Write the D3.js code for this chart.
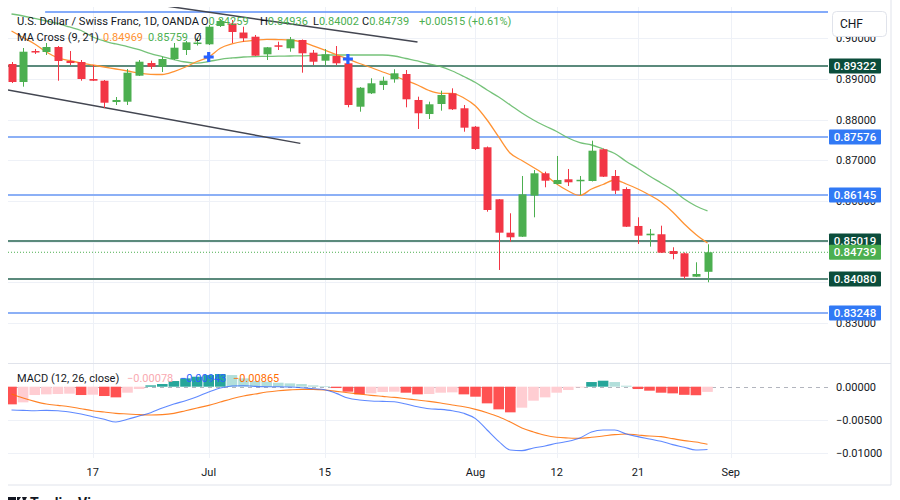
<!DOCTYPE html>
<html><head><meta charset="utf-8">
<script src="https://cdn.jsdelivr.net/npm/d3@7"></script>
<style>body{margin:0;background:#fff;}svg{display:block;font-family:Roboto,"Noto Sans",sans-serif;}</style>
</head><body><svg id="c" width="900" height="500"></svg>
<script>
const dates = ["2024-06-06","2024-06-07","2024-06-10","2024-06-11","2024-06-12","2024-06-13","2024-06-14","2024-06-17","2024-06-18","2024-06-19","2024-06-20","2024-06-21","2024-06-24","2024-06-25","2024-06-26","2024-06-27","2024-06-28","2024-07-01","2024-07-02","2024-07-03","2024-07-04","2024-07-05","2024-07-08","2024-07-09","2024-07-10","2024-07-11","2024-07-12","2024-07-15","2024-07-16","2024-07-17","2024-07-18","2024-07-19","2024-07-22","2024-07-23","2024-07-24","2024-07-25","2024-07-26","2024-07-29","2024-07-30","2024-07-31","2024-08-01","2024-08-02","2024-08-05","2024-08-06","2024-08-07","2024-08-08","2024-08-09","2024-08-12","2024-08-13","2024-08-14","2024-08-15","2024-08-16","2024-08-19","2024-08-20","2024-08-21","2024-08-22","2024-08-23","2024-08-26","2024-08-27","2024-08-28","2024-08-29"];
const open  = [0.89369,0.88926,0.89688,0.89664,0.89787,0.89443,0.89418,0.89000,0.88958,0.88434,0.88442,0.89081,0.89393,0.89302,0.89492,0.89713,0.89873,0.89853,0.90303,0.90365,0.90143,0.90040,0.89607,0.89829,0.89755,0.89959,0.89647,0.89450,0.89566,0.89386,0.88319,0.88648,0.88852,0.88993,0.89123,0.88484,0.88139,0.88385,0.88648,0.88280,0.87827,0.87321,0.86042,0.85221,0.85122,0.86131,0.86681,0.86418,0.86534,0.86504,0.86492,0.87271,0.86615,0.86295,0.85386,0.85157,0.85182,0.84771,0.84714,0.84139,0.84259];
const high  = [0.89418,0.89762,0.89738,0.89885,0.89811,0.89688,0.89467,0.89344,0.88975,0.88557,0.89246,0.89467,0.89450,0.89548,0.89885,0.89934,0.90008,0.90328,0.90475,0.90451,0.90286,0.90082,0.89787,0.89917,0.90033,0.89971,0.89713,0.89738,0.89811,0.89406,0.88803,0.89017,0.89057,0.89239,0.89221,0.88565,0.88442,0.88712,0.88771,0.88361,0.87844,0.87340,0.86049,0.85698,0.86615,0.86762,0.86721,0.87107,0.86787,0.86615,0.87483,0.87290,0.86762,0.86337,0.85599,0.85312,0.85393,0.84862,0.84734,0.84493,0.84936];
const low   = [0.88902,0.88811,0.89615,0.89590,0.88958,0.89344,0.88958,0.88951,0.88287,0.88361,0.88361,0.89074,0.89246,0.89172,0.89467,0.89590,0.89824,0.89836,0.90279,0.89885,0.89917,0.89566,0.89467,0.89713,0.89671,0.89155,0.89344,0.89344,0.89344,0.88304,0.88196,0.88631,0.88730,0.88909,0.88304,0.87771,0.88016,0.88221,0.88238,0.87704,0.87254,0.85737,0.84304,0.85000,0.85115,0.85599,0.86337,0.86406,0.86369,0.86148,0.86480,0.86590,0.86172,0.85361,0.84943,0.84877,0.84722,0.84567,0.84082,0.84132,0.84002];
const close = [0.88926,0.89671,0.89664,0.89787,0.89443,0.89393,0.89000,0.88958,0.88417,0.88484,0.89155,0.89425,0.89302,0.89492,0.89770,0.89902,0.89897,0.90286,0.90426,0.90156,0.90001,0.89573,0.89779,0.89811,0.89976,0.89632,0.89425,0.89607,0.89386,0.88361,0.88786,0.88894,0.88958,0.89140,0.88501,0.88157,0.88378,0.88607,0.88255,0.87803,0.87279,0.85779,0.85221,0.85108,0.86165,0.86681,0.86499,0.86517,0.86460,0.86522,0.87237,0.86598,0.86254,0.85368,0.85147,0.85196,0.84729,0.84697,0.84139,0.84205,0.84739];
const ma9  = [0.90180,0.90020,0.89861,0.89664,0.89521,0.89455,0.89393,0.89344,0.89295,0.89246,0.89197,0.89143,0.89116,0.89111,0.89184,0.89295,0.89430,0.89541,0.89757,0.89861,0.89925,0.89952,0.89976,0.89969,0.89959,0.89915,0.89816,0.89708,0.89602,0.89492,0.89381,0.89283,0.89172,0.89074,0.88963,0.88852,0.88717,0.88648,0.88648,0.88533,0.88336,0.87992,0.87574,0.87173,0.86996,0.86824,0.86640,0.86418,0.86246,0.86136,0.86295,0.86406,0.86517,0.86418,0.86295,0.86148,0.85976,0.85730,0.85435,0.85177,0.84969];
const ma21 = [0.90598,0.90549,0.90488,0.90426,0.90365,0.90279,0.90193,0.90033,0.89934,0.89861,0.89799,0.89720,0.89627,0.89553,0.89479,0.89418,0.89388,0.89430,0.89484,0.89516,0.89541,0.89551,0.89556,0.89561,0.89566,0.89570,0.89580,0.89590,0.89590,0.89590,0.89590,0.89590,0.89590,0.89566,0.89504,0.89443,0.89369,0.89305,0.89197,0.89061,0.88914,0.88730,0.88557,0.88361,0.88164,0.87992,0.87844,0.87709,0.87549,0.87434,0.87377,0.87279,0.87168,0.86972,0.86799,0.86615,0.86443,0.86271,0.86049,0.85877,0.85759];
const macdLine = [-0.0035,-0.00355,-0.0036,-0.00355,-0.0036,-0.0038,-0.0041,-0.0045,-0.0049,-0.0053,-0.0049,-0.0044,-0.0039,-0.0032,-0.0026,-0.0021,-0.0015,-0.0008,-0.0002,0.0001,0.00015,0.00005,0,0,-0.00005,-0.00015,-0.0003,-0.00045,-0.001,-0.0017,-0.002,-0.00215,-0.0022,-0.00225,-0.0026,-0.003,-0.0033,-0.0034,-0.0036,-0.004,-0.0048,-0.0065,-0.0082,-0.0095,-0.0096,-0.0092,-0.0089,-0.0085,-0.0082,-0.0077,-0.0068,-0.0065,-0.0065,-0.0071,-0.0075,-0.00785,-0.0082,-0.0087,-0.0091,-0.0095,-0.00943];
const signalLine = [-0.0011,-0.0017,-0.0022,-0.0026,-0.0028,-0.003,-0.0033,-0.0036,-0.0038,-0.004,-0.0041,-0.0042,-0.00425,-0.0042,-0.004,-0.0036,-0.0032,-0.0028,-0.0023,-0.0018,-0.0014,-0.0011,-0.0008,-0.0006,-0.00048,-0.0004,-0.0004,-0.0005,-0.0007,-0.0009,-0.0011,-0.0013,-0.00145,-0.0016,-0.0018,-0.002,-0.0022,-0.00245,-0.00275,-0.003,-0.0034,-0.0039,-0.0045,-0.0053,-0.0062,-0.0068,-0.0073,-0.0076,-0.0077,-0.00775,-0.0076,-0.0074,-0.0072,-0.0071,-0.00725,-0.0074,-0.0075,-0.0078,-0.0081,-0.0083,-0.00865];
const histogram = [-0.00265,-0.00235,-0.00125,-0.00115,-0.0011,-0.00105,-0.00125,-0.0012,-0.0014,-0.0016,-0.0009,-0.00035,0.0002,0.0004,0.00085,0.00125,0.0015,0.00175,0.0019,0.00175,0.00125,0.00085,0.00075,0.0006,0.0005,0.0004,0.0002,0.0001,-0.0002,-0.00075,-0.00115,-0.001,-0.0008,-0.00075,-0.0009,-0.00115,-0.0011,-0.0009,-0.00085,-0.00115,-0.0015,-0.0025,-0.0034,-0.00385,-0.00315,-0.0021,-0.0016,-0.0009,-0.0005,-0.0001,0.0007,0.0009,0.0007,0.00015,-0.00035,-0.0006,-0.0009,-0.001,-0.00122,-0.00128,-0.00078];
const greenLevels = [0.89322, 0.85019, 0.84080];
const blueLevels = [0.87576, 0.86145, 0.83248];
const topRay = {startIndex: 2.9, price: 0.9065};
const trendLines = [
  {i1: 12.0, p1: 0.90849, i2: 35.0, p2: 0.89907},
  {i1: -0.3, p1: 0.88730, i2: 24.9, p2: 0.87417}
];
const priceTicks = [0.90, 0.89, 0.88, 0.87, 0.86, 0.85, 0.84, 0.83];
const macdTicks = [0, -0.005, -0.01];
const timeTicks = [["2024-06-17","17"],["2024-07-01","Jul"],["2024-07-15","15"],["2024-08-01","Aug"],["2024-08-12","12"],["2024-08-21","21"],["2024-09-02","Sep"]];
const crossIdx = [17, 29];
const legendTitle = "U.S. Dollar / Swiss Franc, 1D, OANDA";
const change = "+0.00515 (+0.61%)";

const svg = d3.select("#c");
const L = 8, R = 828;
const n = dates.length;
const x = d3.scaleLinear().domain([0, n - 1]).range([11.5, 707.5]);
const y = d3.scaleLinear().domain([0.83, 0.89]).range([323, 79]);
const ym = d3.scaleLinear().domain([-0.01, 0]).range([453.3, 386.7]);
function tradingIndex(ds) {
  const d0 = new Date(dates[0] + "T00:00:00Z"), d1 = new Date(ds + "T00:00:00Z");
  let c = 0; for (let d = new Date(d0); d < d1; d.setUTCDate(d.getUTCDate() + 1)) { const w = d.getUTCDay(); if (w !== 0 && w !== 6) c++; }
  return c;
}
const GREEN = "#4caf50", RED = "#f23645";

const defs = svg.append("defs");
defs.append("clipPath").attr("id", "mainClip").append("rect").attr("x", L).attr("y", 7).attr("width", R - L).attr("height", 356);
defs.append("clipPath").attr("id", "macdClip").append("rect").attr("x", L).attr("y", 364).attr("width", R - L).attr("height", 94);

// frame
svg.append("line").attr("x1", L).attr("x2", 891).attr("y1", 485).attr("y2", 485).attr("stroke", "#e0e3eb");
svg.append("line").attr("x1", 891).attr("x2", 891).attr("y1", 0).attr("y2", 485).attr("stroke", "#e0e3eb");
svg.append("line").attr("x1", L).attr("x2", 891).attr("y1", 363.5).attr("y2", 363.5).attr("stroke", "#e0e3eb");

// vertical grid
const vg = svg.append("g");
timeTicks.forEach(([d]) => {
  const xi = Math.round(x(tradingIndex(d))) + 0.5;
  vg.append("line").attr("x1", xi).attr("x2", xi).attr("y1", 7).attr("y2", 363).attr("stroke", "#eef1f7");
  vg.append("line").attr("x1", xi).attr("x2", xi).attr("y1", 364).attr("y2", 458).attr("stroke", "#eef1f7");
});
// horizontal price grid
const main = svg.append("g").attr("clip-path", "url(#mainClip)");
priceTicks.forEach(p => {
  const yy = Math.round(y(p)) + 0.5;
  main.append("line").attr("x1", L).attr("x2", R).attr("y1", yy).attr("y2", yy).attr("stroke", "#eef1f7");
});
// drawing levels
greenLevels.forEach(p => main.append("line").attr("x1", L).attr("x2", R).attr("y1", y(p)).attr("y2", y(p)).attr("stroke", "#5b8a7c").attr("stroke-width", 2));
blueLevels.forEach(p => main.append("line").attr("x1", L).attr("x2", R).attr("y1", y(p)).attr("y2", y(p)).attr("stroke", "#8cb0f6").attr("stroke-width", 2));
main.append("line").attr("x1", x(topRay.startIndex)).attr("x2", R).attr("y1", y(topRay.price)).attr("y2", y(topRay.price)).attr("stroke", "#5b8ff9").attr("stroke-width", 1.5);
trendLines.forEach(t => main.append("line").attr("x1", x(t.i1)).attr("y1", y(t.p1)).attr("x2", x(t.i2)).attr("y2", y(t.p2)).attr("stroke", "#434651").attr("stroke-width", 1.5));
// last price dotted
main.append("line").attr("x1", L).attr("x2", R).attr("y1", y(close[n-1])).attr("y2", y(close[n-1])).attr("stroke", GREEN).attr("stroke-width", 1).attr("stroke-dasharray", "1,2");

// MAs
const lineGen = arr => d3.line().x((d, i) => x(i)).y(d => y(d)).curve(d3.curveMonotoneX)(arr);
main.append("path").attr("d", lineGen(ma21)).attr("fill", "none").attr("stroke", "#66bb6a").attr("stroke-width", 1.3).attr("opacity", 0.9);
main.append("path").attr("d", lineGen(ma9)).attr("fill", "none").attr("stroke", "#ff9333").attr("stroke-width", 1.3);

// candles
const cg = main.append("g");
dates.forEach((d, i) => {
  const up = close[i] >= open[i];
  const col = up ? GREEN : RED;
  const xc = x(i);
  cg.append("line").attr("x1", Math.round(xc) + 0.5).attr("x2", Math.round(xc) + 0.5).attr("y1", y(high[i])).attr("y2", y(low[i])).attr("stroke", col).attr("stroke-width", 1);
  const top = y(Math.max(open[i], close[i])), bot = y(Math.min(open[i], close[i]));
  cg.append("rect").attr("x", Math.round(xc) - 3.5).attr("width", 8).attr("y", top).attr("height", Math.max(1.5, bot - top)).attr("fill", col);
});
// cross markers
crossIdx.forEach(i => {
  main.append("path").attr("d", `M${x(i)-5},${y(ma9[i])}H${x(i)+5}M${x(i)},${y(ma9[i])-5}V${y(ma9[i])+5}`).attr("stroke", "#2962ff").attr("stroke-width", 3.2);
});

// MACD panel
const mg = svg.append("g").attr("clip-path", "url(#macdClip)");
macdTicks.forEach(v => {
  const yy = Math.round(ym(v)) + 0.5;
  mg.append("line").attr("x1", L).attr("x2", R).attr("y1", yy).attr("y2", yy).attr("stroke", v === 0 ? "#b2b5be" : "#eef1f7").attr("stroke-dasharray", v === 0 ? "4,4" : null);
});
histogram.forEach((v, i) => {
  const prev = i > 0 ? histogram[i-1] : 0;
  let col;
  if (v >= 0) col = v >= prev ? "#26a69a" : "#b2dfdb"; else col = v < prev ? "#ff5252" : "#ffcdd2";
  const y0 = ym(0), y1 = ym(v);
  mg.append("rect").attr("x", x(i) - 5.3).attr("width", 10.6).attr("y", Math.min(y0, y1)).attr("height", Math.abs(y1 - y0)).attr("fill", col);
});
const mline = arr => d3.line().x((d, i) => x(i)).y(d => ym(d)).curve(d3.curveMonotoneX)(arr);
mg.append("path").attr("d", mline(signalLine)).attr("fill", "none").attr("stroke", "#ff6d00").attr("stroke-width", 1.1).attr("opacity", 0.85);
mg.append("path").attr("d", mline(macdLine)).attr("fill", "none").attr("stroke", "#2962ff").attr("stroke-width", 1.1).attr("opacity", 0.75);

// right price axis labels (ticks fully covered by level labels are not drawn)
const boxed = greenLevels.concat(blueLevels, [close[n-1]]);
const ax = svg.append("g").attr("font-size", 11).attr("fill", "#131722");
priceTicks.filter(p => !boxed.some(b => Math.abs(y(b) - y(p)) < 4)).forEach(p => ax.append("text").attr("x", 836).attr("y", y(p)).attr("dy", "0.35em").text(p.toFixed(5)));
macdTicks.forEach(v => ax.append("text").attr("x", 836).attr("y", ym(v)).attr("dy", "0.35em").text((v < 0 ? "\u2212" : "") + Math.abs(v).toFixed(5)));
// level label boxes
function box(p, bg) {
  const g = svg.append("g");
  g.append("rect").attr("x", 829).attr("y", y(p) - 7.5).attr("width", 52).attr("height", 15).attr("rx", 1).attr("fill", bg);
  g.append("text").attr("x", 855).attr("y", y(p)).attr("dy", "0.36em").attr("text-anchor", "middle").attr("fill", "#fff").attr("font-size", 11.5).attr("font-weight", 500).text(p.toFixed(5));
}
greenLevels.forEach(p => box(p, "#0b4d3b"));
blueLevels.forEach(p => box(p, "#3179f5"));
box(close[n-1], GREEN);
// CHF box
svg.append("rect").attr("x", 832.5).attr("y", 11.5).attr("width", 54).attr("height", 25).attr("rx", 4).attr("fill", "#fff").attr("stroke", "#e0e3eb");
svg.append("text").attr("x", 840).attr("y", 28).attr("font-size", 12).attr("fill", "#131722").text("CHF");

// time axis
timeTicks.forEach(([d, lab]) => svg.append("text").attr("x", x(tradingIndex(d))).attr("y", 476).attr("text-anchor", "middle").attr("font-size", 11).attr("fill", "#131722").text(lab));

// legends
const lg = svg.append("g").attr("font-size", 11);
lg.append("text").attr("x", 17).attr("y", 25).attr("font-size", 11.2).attr("fill", "#131722").text(legendTitle);
const ohlc = [["O", open[n-1], 201], ["H", high[n-1], 260], ["L", low[n-1], 313], ["C", close[n-1], 362]];
ohlc.forEach(([k, v, xx]) => {
  const t = lg.append("text").attr("x", xx).attr("y", 25).attr("fill", "#131722");
  t.append("tspan").text(k);
  t.append("tspan").attr("fill", GREEN).text(v.toFixed(5));
});
lg.append("text").attr("x", 419).attr("y", 25).attr("fill", GREEN).text(change);
lg.append("text").attr("x", 17).attr("y", 40.5).attr("fill", "#131722").text("MA Cross (9, 21)");
lg.append("text").attr("x", 103).attr("y", 40.5).attr("fill", "#ff9333").text(ma9[n-1].toFixed(5));
lg.append("text").attr("x", 148).attr("y", 40.5).attr("fill", GREEN).text(ma21[n-1].toFixed(5));
lg.append("text").attr("x", 194).attr("y", 40.5).attr("fill", "#131722").text("\u00d8");
const ml = svg.append("g").attr("font-size", 11);
ml.append("text").attr("x", 17).attr("y", 382).attr("fill", "#131722").text("MACD (12, 26, close)");
ml.append("text").attr("x", 127).attr("y", 382).attr("fill", "#f9a9b1").text("\u2212" + Math.abs(histogram[n-1]).toFixed(5));
ml.append("text").attr("x", 180).attr("y", 382).attr("fill", "#2962ff").text("\u2212" + Math.abs(macdLine[n-1]).toFixed(5));
ml.append("text").attr("x", 233).attr("y", 382).attr("fill", "#ff6d00").text("\u2212" + Math.abs(signalLine[n-1]).toFixed(5));

// footer logo (cut off at the bottom edge, as in the reference)
svg.append("path").attr("d", "M8,497h8v6h-8zM17,497h4l-4,6z M22,497h5l-3,6z").attr("fill", "#131722");
svg.append("text").attr("x", 30).attr("y", 508).attr("font-size", 14).attr("font-weight", 700).attr("fill", "#131722").text("TradingView");
</script></body></html>
